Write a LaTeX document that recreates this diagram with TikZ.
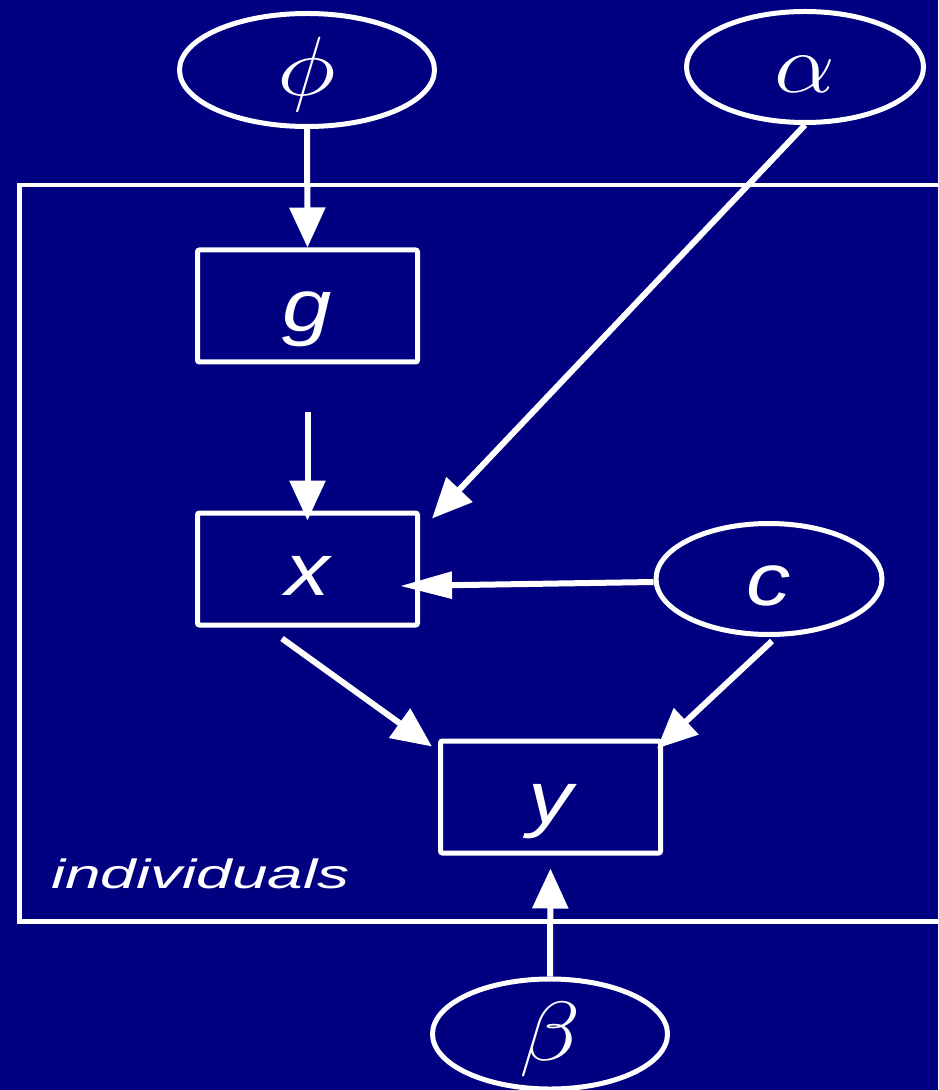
\RequirePackage{fix-cm}
\documentclass[tikz,border=0pt]{standalone}
\usepackage{fontspec}
\setsansfont{Liberation Sans}
\usepackage{graphicx}
\usetikzlibrary{shapes.geometric, arrows.meta}

\definecolor{slidebg}{RGB}{0,0,128}
\newcommand{\widen}[2]{\scalebox{#1}[1]{#2}}

\begin{document}
\begin{tikzpicture}[
  x=0.5pt, y=-0.5pt,
  latent/.style={ellipse, draw=white, line width=2.5pt, inner sep=0pt, text height=26pt, text depth=0pt, text=white, font=\fontsize{37}{40}\selectfont},
  greek/.style={font=\fontsize{42}{46}\selectfont},
  obsbox/.style={rectangle, draw=white, line width=2.5pt, rounded corners=1pt, minimum width=110pt, minimum height=56pt, inner sep=0pt, text height=26pt, text depth=0pt, text=white, font=\fontsize{37}{40}\selectfont\sffamily\itshape},
  plate/.style={rectangle, draw=white, line width=2.25pt, inner sep=0pt},
  arrow/.style={-{Triangle[length=20pt, width=17.5pt]}, white, line width=3pt}
]

% background and page size
\fill[slidebg] (0,0) rectangle (938,1090);
\useasboundingbox (0,0) rectangle (938,1090);

%--------------------------------------
% Plate
%--------------------------------------
\node[plate, anchor=north west, minimum width=475pt, minimum height=368pt] (indiv) at (17,183) {};
\node[anchor=base west, text=white, font=\fontsize{20.5}{24}\selectfont\sffamily\itshape] (indivlabel) at (44,888) {\widen{1.56}{individuals}};

%--------------------------------------
% Parameters
%--------------------------------------
\node[latent, greek, minimum width=127.5pt, minimum height=56.5pt] (phi) at (307,70) {\widen{1.2}{$\phi$}};
\node[latent, greek, minimum width=118.5pt, minimum height=55.5pt] (alpha) at (805,67) {\widen{1.15}{$\alpha$}};
\node[latent, greek, minimum width=117.5pt, minimum height=55pt] (beta) at (550,1034) {\widen{1.2}{$\beta$}};
\node[latent, minimum width=113pt, minimum height=55.5pt] (c) at (769,579) {\sffamily\itshape\widen{1.2}{c}};

%--------------------------------------
% Variables
%--------------------------------------
\node[obsbox] (g) at (307.5,306) {\widen{1.2}{g}};
\node[obsbox] (x) at (307.5,569) {\widen{1.2}{x}};
\node[obsbox] (y) at (550.5,797) {\widen{1.2}{y}};

%--------------------------------------
% Arrows
%--------------------------------------
\draw[arrow] (phi.south) -- (g.north);
\draw[arrow, shorten <=23.5pt, shorten >=-5pt] (g.south) -- (x.north);
\draw[arrow] (alpha.south) -- ([xshift=6pt, yshift=-4pt]x.north east);
\draw[arrow, -{Triangle[length=26pt, width=13pt]}] ([yshift=-1.5pt]c.west) -- ([xshift=-10pt, yshift=-8.5pt]x.east);
\draw[arrow] ([xshift=-12.75pt, yshift=-5.5pt]x.south) -- ([xshift=-3pt, yshift=-4pt]y.north west);
\draw[arrow] ([xshift=1.5pt, yshift=-2pt]c.south) -- ([xshift=-3pt, yshift=-5pt]y.north east);
\draw[arrow, shorten >=6.5pt] (beta.north) -- (y.south);

\end{tikzpicture}
\end{document}
